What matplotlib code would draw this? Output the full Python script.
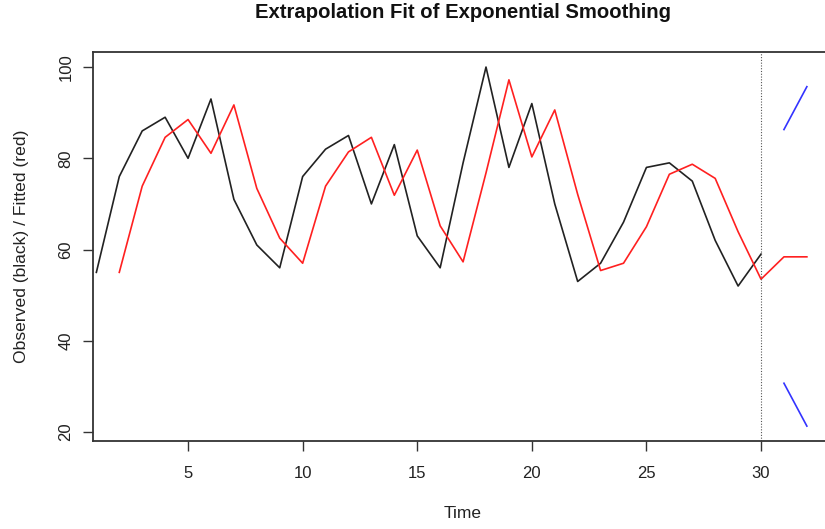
import matplotlib
matplotlib.use("Agg")
import matplotlib.pyplot as plt

plt.rcParams['font.family'] = ['Liberation Sans', 'DejaVu Sans']

obs_time = list(range(1, 31))
observed = [55, 76, 86, 89, 80, 93, 71, 61, 56, 76, 82, 85, 70, 83, 63, 56, 79,
            100, 78, 92, 70, 53, 57, 66, 78, 79, 75, 62, 52, 59]
fit_time = list(range(2, 33))
fitted = [55, 73.9, 84.6, 88.5, 81.1, 91.7, 73.4, 62.5, 57.0, 73.9, 81.4, 84.6,
          71.9, 81.8, 65.2, 57.3, 76.8, 97.2, 80.3, 90.6, 72.1, 55.4, 57.0, 65.0,
          76.5, 78.7, 75.6, 63.9, 53.5, 58.4, 58.4]
band_time = [31, 32]
upper = [86.3, 95.7]
lower = [30.7, 21.3]
forecast_start = 30
xticks = [5, 10, 15, 20, 25, 30]
yticks = [20, 40, 60, 80, 100]

W, H = 825, 529
fig = plt.figure(figsize=(W / 100, H / 100), dpi=100)
left, right, top, bottom = 92.7, 833, 52, 440.7
ax = fig.add_axes([left / W, 1 - bottom / H, (right - left) / W, (bottom - top) / H])

ax.plot(obs_time, observed, color='#222222', lw=1.2)
ax.plot(fit_time, fitted, color='#ff2020', lw=1.2)
ax.plot(band_time, upper, color='#3333ff', lw=1.2)
ax.plot(band_time, lower, color='#3333ff', lw=1.2)
ax.axvline(forecast_start, color='#555555', lw=0.8, ls=(0, (1, 1.5)))

ax.set_xlim(0.84, 33.14)
ax.set_ylim(18.1, 103.3)
ax.set_xticks(xticks)
ax.set_yticks(yticks)
ax.tick_params(axis='both', direction='out', length=7, width=1, color='#333333',
               labelsize=12, labelcolor='#222222')
ax.tick_params(axis='x', pad=11)
ax.tick_params(axis='y', pad=7)
for lab in ax.get_yticklabels():
    lab.set_rotation(90)
    lab.set_va('center')
for s in ax.spines.values():
    s.set_color('#333333')
    s.set_linewidth(1.3)

fig.text(463 / W, 1 - 13 / H, 'Extrapolation Fit of Exponential Smoothing',
         ha='center', va='center', fontsize=14.6, fontweight='bold', color='#111111')
fig.text(463 / W, 1 - 513 / H, 'Time', ha='center', va='center', fontsize=12.5,
         color='#222222')
fig.text(22 / W, 1 - 246 / H, 'Observed (black) / Fitted (red)', ha='center',
         va='center', rotation=90, fontsize=12.6, color='#222222')

fig.savefig('out.png', dpi=100)
